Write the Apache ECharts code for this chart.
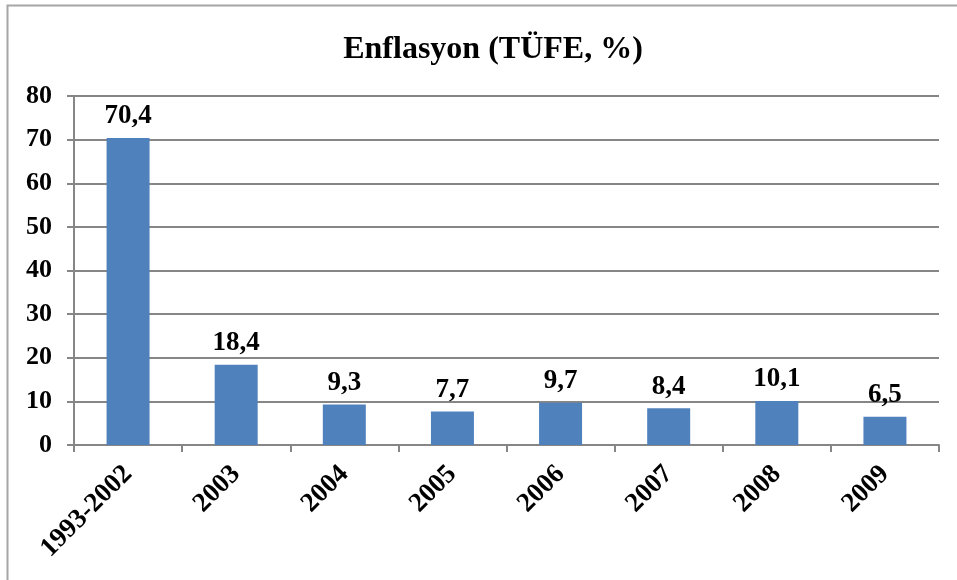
<!DOCTYPE html>
<html><head><meta charset="utf-8">
<script src="https://cdn.jsdelivr.net/npm/echarts@6/dist/echarts.min.js"></script>
<style>html,body{margin:0;padding:0;background:#fff}#c{width:957px;height:580px}</style>
</head><body><div id="c"></div>
<script>
var titleText = "Enflasyon (TÜFE, %)";
var categories = ["1993-2002","2003","2004","2005","2006","2007","2008","2009"];
var values = [70.4, 18.4, 9.3, 7.7, 9.7, 8.4, 10.1, 6.5];
var yTicks = [0, 80, 10];
var ff = '"Liberation Serif","Times New Roman",serif';
var chart = echarts.init(document.getElementById('c'));
chart.setOption({
  animation: false,
  backgroundColor: '#fff',
  title: { text: titleText, left: 488, top: 29, textAlign: 'center',
    textStyle: { fontFamily: ff, fontWeight: 'bold', fontSize: 32, color: '#000' } },
  graphic: [{ type: 'rect', shape: { x: 7.5, y: 5.5, width: 1000, height: 1000 },
    style: { fill: 'none', stroke: '#a6a6a6', lineWidth: 2 }, silent: true }],
  grid: { left: 74, right: 18, top: 96, bottom: 135 },
  xAxis: { type: 'category', data: categories,
    axisLine: { lineStyle: { color: '#868686', width: 2 } },
    axisTick: { show: true, length: 7, lineStyle: { color: '#868686', width: 2 } },
    axisLabel: { rotate: 45, margin: 25, fontFamily: ff, fontWeight: 'bold', fontSize: 27, color: '#000' } },
  yAxis: { type: 'value', min: yTicks[0], max: yTicks[1], interval: yTicks[2],
    axisLine: { show: true, lineStyle: { color: '#868686', width: 2 } },
    axisTick: { show: true, length: 7, lineStyle: { color: '#868686', width: 2 } },
    splitLine: { lineStyle: { color: '#868686', width: 2 } },
    axisLabel: { margin: 22, fontFamily: ff, fontWeight: 'bold', fontSize: 26, color: '#000' } },
  series: [{ type: 'bar', data: values, barWidth: 43,
    itemStyle: { color: '#4f81bd' },
    label: { show: true, position: 'top', distance: 8, fontFamily: ff, fontWeight: 'bold', fontSize: 27, color: '#000',
      formatter: function(p){ return String(p.value).replace('.', ','); } } }]
});
</script></body></html>
